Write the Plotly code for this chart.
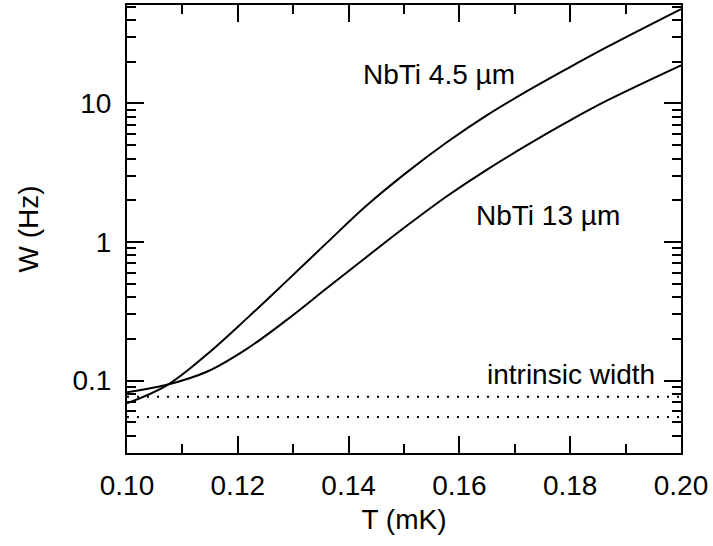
import plotly.graph_objects as go
import numpy as np

# Temperature (mK) sample points
T_45 = [0.1000, 0.1072, 0.1144, 0.1217, 0.1289, 0.1361, 0.1433, 0.1505, 0.1578, 0.1650, 0.1722, 0.1794, 0.1866, 0.2000]
W_45 = [0.0684, 0.0923, 0.154, 0.282, 0.526, 0.989, 1.84, 3.18, 5.27, 8.24, 12.27, 17.8, 25.5, 48.0]

T_13 = [0.1000, 0.1072, 0.1144, 0.1217, 0.1289, 0.1361, 0.1433, 0.1505, 0.1578, 0.1650, 0.1722, 0.1794, 0.1866, 0.2000]
W_13 = [0.0822, 0.0931, 0.1156, 0.170, 0.275, 0.465, 0.783, 1.309, 2.148, 3.334, 5.00, 7.33, 10.47, 18.84]

T_span = [0.10, 0.20]
intrinsic_upper = [0.0764, 0.0764]
intrinsic_lower = [0.0545, 0.0545]

x_major = [0.10, 0.12, 0.14, 0.16, 0.18, 0.20]
x_major_text = ["0.10", "0.12", "0.14", "0.16", "0.18", "0.20"]
y_major = [0.1, 1, 10]
y_major_text = ["0.1", "1", "10"]

FONT = "Liberation Sans, Arial, Helvetica, sans-serif"
BLACK = "black"

fig = go.Figure()
line_style = dict(color=BLACK, width=2, shape="spline", smoothing=1.0)
fig.add_trace(go.Scatter(x=T_45, y=W_45, mode="lines", line=line_style, showlegend=False, hoverinfo="skip"))
fig.add_trace(go.Scatter(x=T_13, y=W_13, mode="lines", line=line_style, showlegend=False, hoverinfo="skip"))
dot_style = dict(color=BLACK, width=2, dash="2px,8px")
fig.add_trace(go.Scatter(x=T_span, y=intrinsic_upper, mode="lines", line=dot_style, showlegend=False, hoverinfo="skip"))
fig.add_trace(go.Scatter(x=T_span, y=intrinsic_lower, mode="lines", line=dot_style, showlegend=False, hoverinfo="skip"))

y_minor = [m * 10.0 ** e for e in (-2, -1, 0, 1) for m in range(2, 10)]
y_minor = [v for v in y_minor if 0.029 < v < 52]

fig.update_xaxes(
    range=[0.10, 0.20],
    tickvals=x_major, ticktext=x_major_text,
    ticks="inside", ticklen=17, tickwidth=2, tickcolor=BLACK,
    showline=True, linewidth=2, linecolor=BLACK, mirror="allticks",
    showgrid=False, zeroline=False,
    minor=dict(dtick=0.01, tick0=0.1, ticks="inside", ticklen=9, tickwidth=2, tickcolor=BLACK, showgrid=False),
    tickfont=dict(family=FONT, size=28, color=BLACK),
    title=dict(text="T (mK)", font=dict(family=FONT, size=28, color=BLACK), standoff=10),
    ticklabelstandoff=6,
)
fig.update_yaxes(
    type="log",
    range=[np.log10(0.02996), np.log10(51.4)],
    tickvals=y_major, ticktext=y_major_text,
    ticks="inside", ticklen=17, tickwidth=2, tickcolor=BLACK,
    showline=True, linewidth=2, linecolor=BLACK, mirror="allticks",
    showgrid=False, zeroline=False,
    minor=dict(tickvals=y_minor, ticks="inside", ticklen=9, tickwidth=2, tickcolor=BLACK, showgrid=False),
    tickfont=dict(family=FONT, size=28, color=BLACK),
    title=dict(text="W (Hz)", font=dict(family=FONT, size=28, color=BLACK), standoff=26),
    ticklabelstandoff=8,
)

ann_font = dict(family=FONT, size=28, color=BLACK)
fig.add_annotation(x=0.1563, y=np.log10(16.3), text="NbTi 4.5 µm", showarrow=False, font=ann_font, xanchor="center", yanchor="middle")
fig.add_annotation(x=0.1760, y=np.log10(1.566), text="NbTi 13 µm", showarrow=False, font=ann_font, xanchor="center", yanchor="middle")
fig.add_annotation(x=0.1957, y=np.log10(0.1114), text="intrinsic width", showarrow=False, font=ann_font, xanchor="right", yanchor="middle")

fig.update_layout(
    width=713, height=546,
    margin=dict(l=127, r=32, t=5, b=93, autoexpand=False),
    paper_bgcolor="white", plot_bgcolor="white",
    font=dict(family=FONT, color=BLACK),
    hovermode=False,
)
fig.write_html(
    "out.html",
    config={"displayModeBar": False, "staticPlot": True},
    post_script="document.body.style.margin='0';document.body.style.overflow='hidden';",
)
